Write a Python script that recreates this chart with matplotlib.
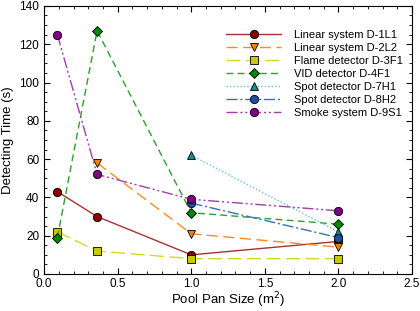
import matplotlib.pyplot as plt
from matplotlib.ticker import MultipleLocator

plt.rcParams['font.family'] = ['Liberation Sans', 'DejaVu Sans']

# Pool pan sizes (m^2)
x4 = [0.09, 0.36, 1.0, 2.0]
x3 = [0.36, 1.0, 2.0]
x2 = [1.0, 2.0]

# Detecting times (s)
d1l1 = [43, 30, 10, 17]
d2l2 = [58, 21, 14]
d3f1 = [22, 12, 8, 8]
d4f1 = [19, 127, 32, 26]
d7h1 = [62, 22]
d8h2 = [37, 19]
d9s1 = [125, 52, 39, 33]

fig, ax = plt.subplots(figsize=(4.2, 3.11), dpi=100)
fig.subplots_adjust(left=0.105, right=0.981, top=0.981, bottom=0.119)

ms = 6
ax.plot(x4, d1l1, color='#a83232', lw=1, ls='-', marker='o', ms=ms,
        mfc='#8b0000', mec='black', mew=0.6, label='Linear system D-1L1')
ax.plot(x3, d2l2, color='#ff8c1a', lw=1, ls=(0, (8, 4)), marker='v', ms=ms,
        mfc='#ff7f00', mec='black', mew=0.6, label='Linear system D-2L2')
ax.plot(x4, d3f1, color='#d6d62a', lw=1, ls=(0, (10, 4)), marker='s', ms=ms,
        mfc='#c8c800', mec='black', mew=0.6, label='Flame detector D-3F1')
ax.plot(x4, d4f1, color='#2e9e2e', lw=1, ls=(0, (5, 3)), marker='D', ms=ms - 0.5,
        mfc='#008800', mec='black', mew=0.6, label='VID detector D-4F1')
ax.plot(x2, d7h1, color='#66c6c6', lw=1, ls=(0, (1, 1.5)), marker='^', ms=ms,
        mfc='#1a8c8c', mec='black', mew=0.6, label='Spot detector D-7H1')
ax.plot(x2, d8h2, color='#3a70b8', lw=1, ls=(0, (8, 2, 1.5, 2)), marker='o', ms=ms,
        mfc='#1f4e9a', mec='black', mew=0.6, label='Spot detector D-8H2')
ax.plot(x4, d9s1, color='#a040a8', lw=1, ls=(0, (8, 2, 1.5, 2, 1.5, 2)), marker='o', ms=ms,
        mfc='#800080', mec='black', mew=0.6, label='Smoke system D-9S1')

ax.set_xlim(0, 2.5)
ax.set_ylim(0, 140)
ax.xaxis.set_major_locator(MultipleLocator(0.5))
ax.xaxis.set_minor_locator(MultipleLocator(0.1))
ax.yaxis.set_major_locator(MultipleLocator(20))
ax.yaxis.set_minor_locator(MultipleLocator(5))
ax.tick_params(which='both', direction='in', top=True, right=True, labelsize=8.5)
ax.tick_params(which='major', length=4)
ax.tick_params(which='minor', length=2)
ax.tick_params(axis='x', pad=3)
ax.xaxis.set_major_formatter(plt.FormatStrFormatter('%.1f'))

ax.set_xlabel('Pool Pan Size (m$^2$)', fontsize=9.5, labelpad=0)
ax.set_ylabel('Detecting Time (s)', fontsize=9.5)

ax.legend(loc='upper left', frameon=False, fontsize=8, handlelength=5,
          handletextpad=1.1, labelspacing=0.28, borderpad=0.3,
          bbox_to_anchor=(0.47, 0.945))

fig.savefig('out.png', dpi=100)
